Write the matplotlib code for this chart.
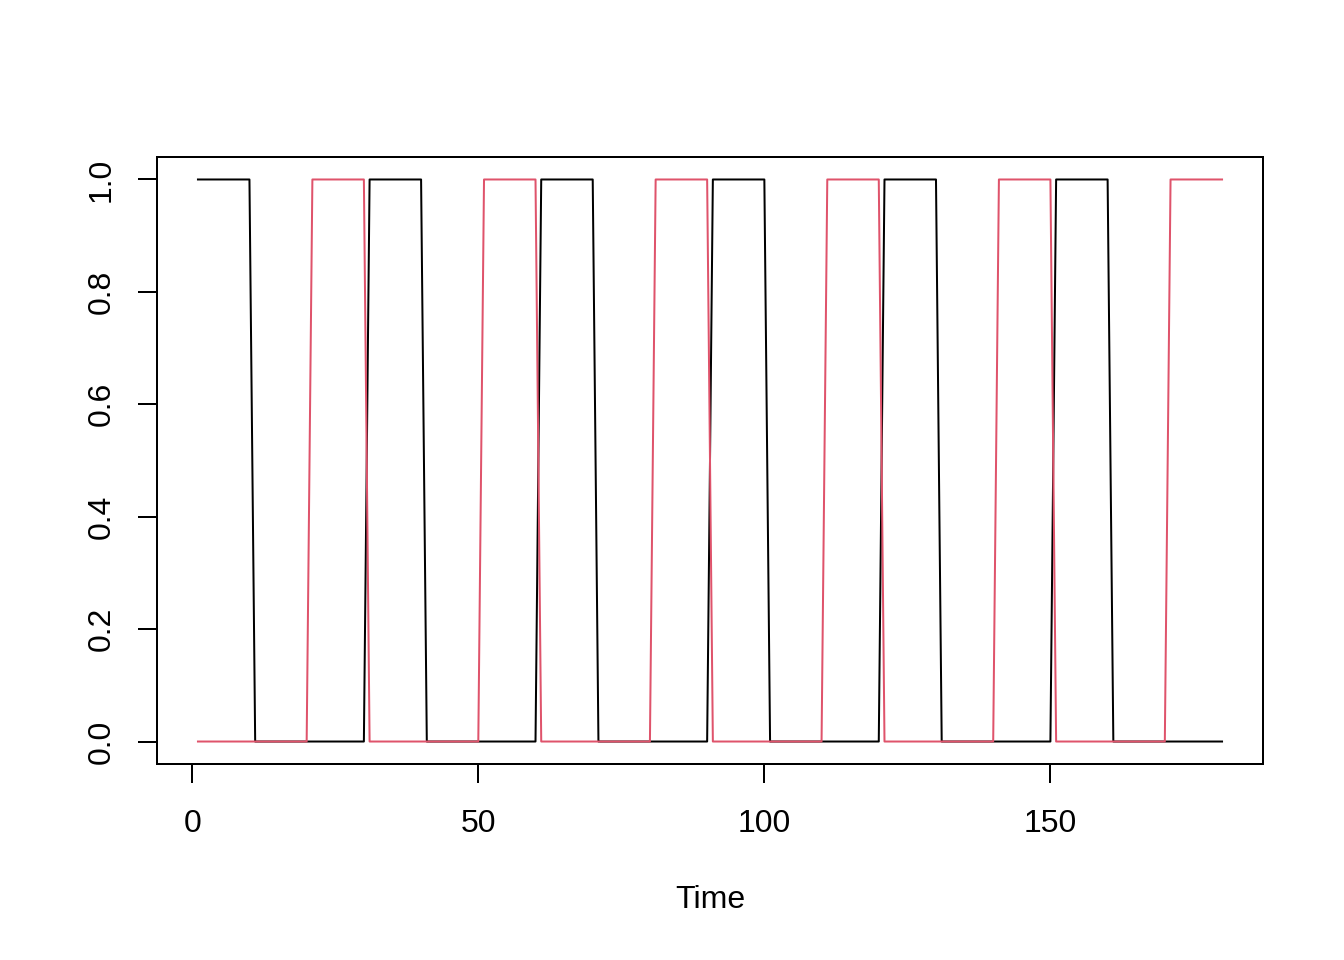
import numpy as np
import matplotlib
matplotlib.use("Agg")
import matplotlib.pyplot as plt

plt.rcParams['font.family'] = ['Liberation Sans', 'DejaVu Sans']

# two on/off series, t = 1..180
time = np.arange(1, 181)
black = [1,1,1,1,1,1,1,1,1,1, 0,0,0,0,0,0,0,0,0,0, 0,0,0,0,0,0,0,0,0,0,
         1,1,1,1,1,1,1,1,1,1, 0,0,0,0,0,0,0,0,0,0, 0,0,0,0,0,0,0,0,0,0,
         1,1,1,1,1,1,1,1,1,1, 0,0,0,0,0,0,0,0,0,0, 0,0,0,0,0,0,0,0,0,0,
         1,1,1,1,1,1,1,1,1,1, 0,0,0,0,0,0,0,0,0,0, 0,0,0,0,0,0,0,0,0,0,
         1,1,1,1,1,1,1,1,1,1, 0,0,0,0,0,0,0,0,0,0, 0,0,0,0,0,0,0,0,0,0,
         1,1,1,1,1,1,1,1,1,1, 0,0,0,0,0,0,0,0,0,0, 0,0,0,0,0,0,0,0,0,0]
red = [0,0,0,0,0,0,0,0,0,0, 0,0,0,0,0,0,0,0,0,0, 1,1,1,1,1,1,1,1,1,1,
       0,0,0,0,0,0,0,0,0,0, 0,0,0,0,0,0,0,0,0,0, 1,1,1,1,1,1,1,1,1,1,
       0,0,0,0,0,0,0,0,0,0, 0,0,0,0,0,0,0,0,0,0, 1,1,1,1,1,1,1,1,1,1,
       0,0,0,0,0,0,0,0,0,0, 0,0,0,0,0,0,0,0,0,0, 1,1,1,1,1,1,1,1,1,1,
       0,0,0,0,0,0,0,0,0,0, 0,0,0,0,0,0,0,0,0,0, 1,1,1,1,1,1,1,1,1,1,
       0,0,0,0,0,0,0,0,0,0, 0,0,0,0,0,0,0,0,0,0, 1,1,1,1,1,1,1,1,1,1]

xticks = [0, 50, 100, 150]
yticks = [0.0, 0.2, 0.4, 0.6, 0.8, 1.0]

fig = plt.figure(figsize=(7, 5), dpi=192)
ax = fig.add_axes([157/1344, 1 - 764/960, (1263 - 157)/1344, (764 - 157)/960])

ax.plot(time, black, color="black", lw=0.75)
ax.plot(time, red, color="#DF536B", lw=0.75)

# R style 4% padding
ax.set_xlim(1 - 0.04*179, 180 + 0.04*179)
ax.set_ylim(-0.04, 1.04)

ax.set_xticks(xticks)
ax.set_xticklabels([str(v) for v in xticks])
ax.set_yticks(yticks)
ax.set_yticklabels([f"{v:.1f}" for v in yticks], rotation=90, va="center")
ax.tick_params(direction="out", length=7, width=0.75, labelsize=12)
ax.tick_params(axis="x", pad=10)
ax.tick_params(axis="y", pad=8)
for s in ax.spines.values():
    s.set_linewidth(0.75)

fig.text(710/1344, 1 - 900/960, "Time", ha="center", va="center", fontsize=12)

fig.savefig("out.png", dpi=192)
